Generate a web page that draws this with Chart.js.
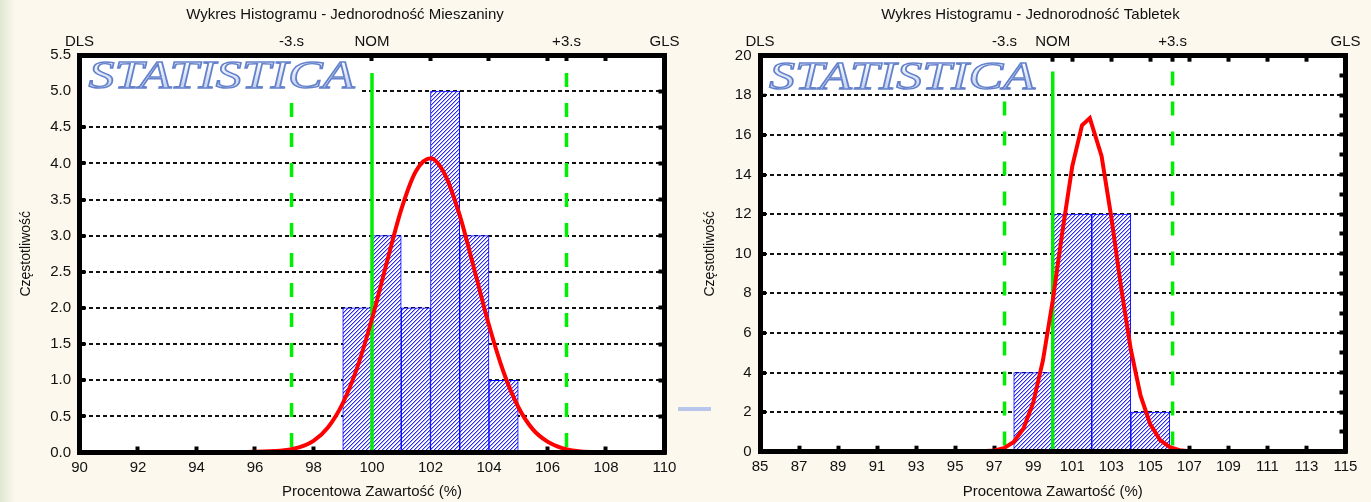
<!DOCTYPE html>
<html>
<head>
<meta charset="utf-8">
<script src="https://cdn.jsdelivr.net/npm/chart.js@4.4.1/dist/chart.umd.min.js"></script>
<style>
  html, body { margin: 0; padding: 0; }
  body {
    width: 1371px; height: 502px; position: relative; overflow: hidden;
    background: linear-gradient(to right, #e0e6d4 0px, #f2f1e3 9px, #fdf8ed 16px);
  }
  .box { position: absolute; top: 0; height: 502px; }
  #left { left: 0; width: 690px; }
  #right { left: 690px; width: 681px; }
  .stray { position: absolute; left: 678px; top: 407px; width: 33px; height: 4px; background: #b7c6ea; }
</style>
</head>
<body>
<div class="box" id="left"><canvas id="mix"></canvas></div>
<div class="box" id="right"><canvas id="tab"></canvas></div>
<div class="stray"></div>
<script>
// --- Jednorodność Mieszaniny ---
const mixBins = [99.5, 100.5, 101.5, 102.5, 103.5, 104.5];
const mixCounts = [2, 3, 2, 5, 3, 1];
const mixCurveX = [90, 95, 96, 97, 97.5, 98, 98.5, 99, 99.5, 100, 100.5, 101, 101.5, 102, 102.5, 103, 103.5, 104, 104.5, 105, 105.5, 106, 106.5, 107, 108, 110];
const mixCurveY = [0, 0, 0.01, 0.03, 0.07, 0.16, 0.35, 0.68, 1.18, 1.85, 2.62, 3.36, 3.89, 4.07, 3.84, 3.28, 2.53, 1.76, 1.11, 0.63, 0.32, 0.15, 0.06, 0.02, 0, 0];
const mixLimits = [90, 97.25, 100, 106.65, 110];
const mixXTicks = [90, 92, 94, 96, 98, 100, 102, 104, 106, 108, 110];

// --- Jednorodność Tabletek ---
const tabBins = [99, 101, 103, 105];
const tabCounts = [4, 12, 12, 2];
const tabCurveX = [85, 95, 96, 97, 97.5, 98, 98.5, 99, 99.5, 100, 100.5, 101, 101.5, 101.9, 102.5, 103, 103.5, 104, 104.5, 105, 105.5, 106, 106.5, 107, 108, 115];
const tabCurveY = [0, 0, 0, 0.06, 0.18, 0.49, 1.17, 2.48, 4.62, 7.63, 11.15, 14.41, 16.48, 16.85, 14.94, 11.85, 8.31, 5.16, 2.83, 1.38, 0.59, 0.23, 0.08, 0.02, 0, 0];
const tabLimits = [85, 97.53, 100, 106.14, 115];
const tabXTicks = [85, 87, 89, 91, 93, 95, 97, 99, 101, 103, 105, 107, 109, 111, 113, 115];

const limitLabels = ['DLS', '-3.s', 'NOM', '+3.s', 'GLS'];

Chart.defaults.font.family = '"Liberation Sans", Arial, sans-serif';
Chart.defaults.color = '#111';

// ukośne kreskowanie słupków, kafelek 4x4 budowany z pikseli
function hatch() {
  const n = 4;
  const c = document.createElement('canvas');
  c.width = n; c.height = n;
  const g = c.getContext('2d');
  const img = g.createImageData(n, n);
  for (let y = 0; y < n; y++) {
    for (let x = 0; x < n; x++) {
      const d = (x + y) % n;
      let p = [255, 255, 255];
      if (d === n - 1) p = [40, 40, 255];
      else if (d === 0) p = [170, 170, 255];
      const k = (y * n + x) * 4;
      img.data[k] = p[0]; img.data[k + 1] = p[1]; img.data[k + 2] = p[2]; img.data[k + 3] = 255;
    }
  }
  g.putImageData(img, 0, 0);
  return g.createPattern(c, 'repeat');
}

const plotBg = {
  id: 'plotBg',
  beforeDraw(chart) {
    const { ctx, chartArea: a } = chart;
    ctx.save();
    ctx.fillStyle = '#fff';
    ctx.fillRect(a.left, a.top, a.right - a.left, a.bottom - a.top);
    ctx.restore();
  }
};

// znak wodny STATISTICA
const logo = {
  id: 'logo',
  afterDatasetsDraw(chart) {
    const { ctx, chartArea: a } = chart;
    ctx.save();
    ctx.fillStyle = '#fff';
    ctx.fillRect(a.left + 2, a.top + 2, 280, 36);
    ctx.font = 'italic 40px "Liberation Serif"';
    const w = ctx.measureText('STATISTICA').width;
    ctx.translate(a.left + 9, a.top + 33);
    ctx.scale(266 / w, 1);
    const gr = ctx.createLinearGradient(0, -28, 0, 0);
    gr.addColorStop(0, '#ffffff');
    gr.addColorStop(1, '#c3d0f0');
    ctx.fillStyle = gr;
    ctx.fillText('STATISTICA', 0, 0);
    ctx.strokeStyle = '#6482cc';
    ctx.lineWidth = 1.4;
    ctx.strokeText('STATISTICA', 0, 0);
    ctx.restore();
  }
};

function markerLine(x, top, dashed) {
  return {
    type: 'line',
    data: [{ x: x, y: top }, { x: x, y: 0 }],
    borderColor: '#00ee00',
    borderWidth: 3.5,
    borderDash: dashed ? [14, 16] : [],
    pointRadius: 0,
    order: 1
  };
}

function makeChart(id, o) {
  const frame = { display: true, color: '#000', width: 5, z: 1 };
  const inTicks = { drawOnChartArea: false, drawTicks: true, tickLength: -6, tickWidth: 4, tickColor: '#000' };
  const topTicks = [...new Set(o.xTicks.concat(o.limits))].sort((a, b) => a - b);

  new Chart(document.getElementById(id), {
    type: 'bar',
    data: {
      datasets: [
        {
          type: 'bar',
          data: o.bins.map((x, i) => ({ x: x, y: o.counts[i] })),
          backgroundColor: hatch(),
          borderColor: '#0000ff',
          borderWidth: 1,
          barPercentage: 1,
          categoryPercentage: 1,
          order: 2
        },
        {
          type: 'line',
          data: o.curveX.map((x, i) => ({ x: x, y: o.curveY[i] })),
          borderColor: '#ff0000',
          borderWidth: 4,
          pointRadius: 0,
          tension: o.tension,
          cubicInterpolationMode: o.tension ? 'monotone' : 'default',
          order: 0
        },
        markerLine(o.limits[1], o.lineTop, true),
        markerLine(o.limits[2], o.lineTop, false),
        markerLine(o.limits[3], o.lineTop, true)
      ]
    },
    options: {
      responsive: true,
      maintainAspectRatio: false,
      animation: false,
      devicePixelRatio: 1,
      layout: { padding: 0 },
      plugins: {
        legend: { display: false },
        tooltip: { enabled: false },
        title: {
          display: true,
          text: o.title,
          color: '#111',
          font: { size: 15, weight: 'normal' },
          padding: { top: 6, bottom: 0 }
        }
      },
      scales: {
        x: {
          type: 'linear',
          position: 'bottom',
          min: o.xTicks[0],
          max: o.xTicks[o.xTicks.length - 1],
          offset: false,
          afterBuildTicks: s => { s.ticks = o.xTicks.map(v => ({ value: v })); },
          ticks: { autoSkip: false, maxRotation: 0, padding: 12, font: { size: 15 }, callback: v => String(v) },
          grid: Object.assign({ offset: false }, inTicks),
          border: frame,
          title: { display: true, text: 'Procentowa Zawartość (%)', font: { size: 15 }, padding: { top: 0, bottom: 1 } },
          afterFit: s => { s.height = o.xHeight; }
        },
        x2: {
          type: 'linear',
          position: 'top',
          min: o.xTicks[0],
          max: o.xTicks[o.xTicks.length - 1],
          offset: false,
          afterBuildTicks: s => { s.ticks = topTicks.map(v => ({ value: v })); },
          ticks: {
            autoSkip: false, maxRotation: 0, padding: 10.5, font: { size: 15 },
            callback: v => { const i = o.limits.indexOf(v); return i >= 0 ? limitLabels[i] : ''; }
          },
          grid: Object.assign({ offset: false }, inTicks),
          border: frame,
          afterFit: s => { s.height = o.x2Height; }
        },
        y: {
          position: 'left',
          min: 0,
          max: o.yMax,
          ticks: {
            stepSize: o.yStep, padding: 14.5, font: { size: 15 },
            callback: v => (Math.round(v / o.yLabelStep * 1000) % 1000 === 0 ? v.toFixed(o.yDigits) : '')
          },
          grid: {
            color: c => (Math.round(c.tick.value / o.yLabelStep * 1000) % 1000 === 0 ? '#111' : 'rgba(0,0,0,0)'),
            lineWidth: 2,
            drawTicks: true, tickLength: -6, tickWidth: 4, tickColor: '#000'
          },
          border: { display: true, color: '#000', width: 5, z: 1, dash: [4, 3] },
          title: { display: true, text: 'Częstotliwość', font: { size: 14 }, padding: { top: o.yTitlePad, bottom: 0 } },
          afterFit: s => { s.width = o.yWidth; }
        },
        y2: {
          position: 'right',
          min: 0,
          max: o.yMax,
          ticks: { display: false, stepSize: o.yStep },
          grid: inTicks,
          border: frame,
          afterFit: s => { s.width = o.y2Width; }
        }
      }
    },
    plugins: [plotBg, logo]
  });
}

makeChart('mix', {
  title: 'Wykres Histogramu - Jednorodność Mieszaniny',
  bins: mixBins, counts: mixCounts,
  curveX: mixCurveX, curveY: mixCurveY, tension: 0.4,
  limits: mixLimits, xTicks: mixXTicks,
  yMax: 5.5, yStep: 0.5, yLabelStep: 0.5, yDigits: 1,
  lineTop: 5.25,
  yWidth: 79.5, y2Width: 22.5, x2Height: 31, xHeight: 49.5, yTitlePad: 18
});

makeChart('tab', {
  title: 'Wykres Histogramu - Jednorodność Tabletek',
  bins: tabBins, counts: tabCounts,
  curveX: tabCurveX, curveY: tabCurveY, tension: 0,
  limits: tabLimits, xTicks: tabXTicks,
  yMax: 20, yStep: 1, yLabelStep: 2, yDigits: 0,
  lineTop: 19.2,
  yWidth: 70, y2Width: 18.5, x2Height: 31.7, xHeight: 50.3, yTitlePad: 11.5
});
</script>
</body>
</html>
